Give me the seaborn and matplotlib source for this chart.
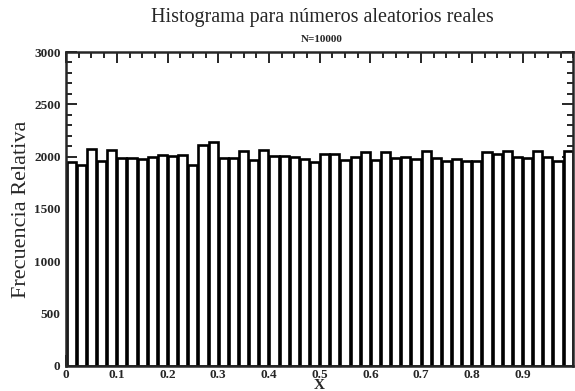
import numpy as np
import pandas as pd
import seaborn as sns
import matplotlib
matplotlib.use("Agg")
from matplotlib import pyplot as plt
from matplotlib.ticker import MultipleLocator, AutoMinorLocator

n_clases = 50
centros = (np.arange(n_clases) + 0.5) / n_clases
frecuencias = [
    1950, 1920, 2070, 1960, 2060,
    1990, 1990, 1980, 2000, 2020,
    2010, 2020, 1920, 2110, 2140,
    1990, 1990, 2050, 1970, 2060,
    2010, 2010, 2000, 1980, 1950,
    2030, 2030, 1970, 2000, 2040,
    1970, 2040, 1990, 2000, 1980,
    2050, 1990, 1960, 1980, 1960,
    1960, 2040, 2030, 2050, 2000,
    1990, 2050, 2000, 1960, 2050,
]
etiquetas_x = ["0", "0.1", "0.2", "0.3", "0.4", "0.5", "0.6", "0.7", "0.8", "0.9"]

sns.set_style("ticks")
plt.rcParams['font.family'] = ['Liberation Serif', 'DejaVu Serif']

df = pd.DataFrame({"x": centros, "f": frecuencias})

fig = plt.figure(figsize=(5.75, 3.91), dpi=100)
ax = fig.add_axes([0.115, 0.064, 0.882, 0.803])

sns.histplot(data=df, x="x", weights="f", bins=n_clases, binrange=(0, 1),
             shrink=0.9, color="white", edgecolor="black", linewidth=1.9,
             alpha=1, ax=ax)

ax.set_xlim(0, 1.0)
ax.set_ylim(0, 3000)
ax.set_xticks(np.arange(0, 1.0, 0.1))
ax.set_xticklabels(etiquetas_x)
ax.yaxis.set_major_locator(MultipleLocator(500))
ax.xaxis.set_minor_locator(AutoMinorLocator(4))
ax.yaxis.set_minor_locator(AutoMinorLocator(5))
ax.tick_params(which="both", direction="in", top=True, right=True, width=1.4,
               labelsize=9.5)
ax.tick_params(axis="x", which="both", pad=2)
ax.tick_params(axis="y", which="both", pad=4)
ax.tick_params(which="major", length=8)
ax.tick_params(which="minor", length=4)
for s in ax.spines.values():
    s.set_linewidth(1.8)
for lab in ax.get_xticklabels() + ax.get_yticklabels():
    lab.set_fontweight("bold")
ax.get_yticklabels()[0].set_verticalalignment("bottom")

ax.set_xlabel("X", fontsize=11, fontweight="bold", labelpad=-1)
ax.set_ylabel("Frecuencia Relativa", fontsize=16, labelpad=2)
fig.text(0.56, 0.955, "Histograma para números aleatorios reales",
         ha="center", va="center", fontsize=14.5)
fig.text(0.56, 0.9, "N=10000", ha="center", va="center", fontsize=8,
         fontweight="bold")

fig.savefig("out.png", dpi=100)
